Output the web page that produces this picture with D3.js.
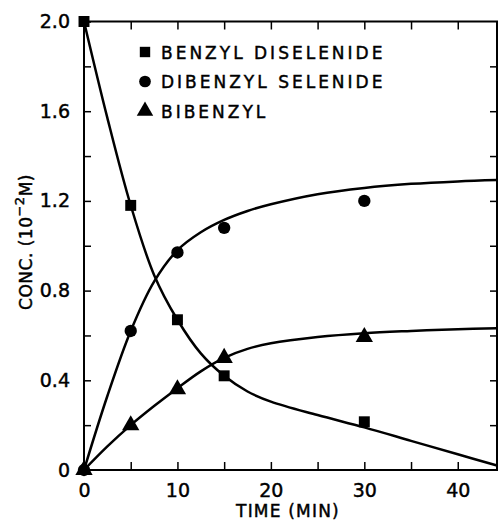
<!DOCTYPE html>
<html><head><meta charset="utf-8">
<script src="https://cdn.jsdelivr.net/npm/d3@7"></script>
<style>body{margin:0;background:#fff}svg text{font-family:"DejaVu Sans",sans-serif;fill:#000;stroke:#000;stroke-width:0.45px}</style>
</head><body>
<svg id="c" width="498" height="521"></svg>
<script>
// measured points
const times = [0, 5, 10, 15, 30];
const diselenide = [2.0, 1.18, 0.67, 0.42, 0.215];
const selenide = [0, 0.62, 0.97, 1.08, 1.20];
const bibenzyl = [0, 0.2, 0.36, 0.5, 0.593];
// fitted curves
const curveT = [0, 2.5, 5, 7.5, 10, 12.5, 15, 17.5, 20, 25, 30, 35, 40, 44.2];
const diselenideCurve = [2.0, 1.57, 1.18, 0.87, 0.67, 0.52, 0.42, 0.35, 0.305, 0.245, 0.19, 0.13, 0.07, 0.02];
const selenideCurve = [0, 0.33, 0.62, 0.84, 0.98, 1.06, 1.115, 1.155, 1.185, 1.23, 1.258, 1.276, 1.287, 1.293];
const bibenzylCurve = [0, 0.105, 0.2, 0.285, 0.365, 0.44, 0.5, 0.54, 0.565, 0.593, 0.61, 0.62, 0.628, 0.632];
const xTickLabels = [0, 10, 20, 30, 40];
const yTickLabels = [0, 0.4, 0.8, 1.2, 1.6, 2.0];
const legendNames = ["BENZYL DISELENIDE", "DIBENZYL SELENIDE", "BIBENZYL"];

const svg = d3.select("#c");
const x = d3.scaleLinear().domain([0, 44.2]).range([84, 497]);
const y = d3.scaleLinear().domain([0, 2]).range([470, 21.5]);

const g = svg.append("g");
// frame
g.append("rect").attr("x", x(0)).attr("y", y(2)).attr("width", x(44.2) - x(0)).attr("height", y(0) - y(2))
  .attr("fill", "none").attr("stroke", "#000").attr("stroke-width", 2);

// bottom
g.append("g").attr("transform", `translate(0,${y(0)})`)
  .call(d3.axisBottom(x).tickValues(d3.range(0, 45, 5)).tickSizeInner(-8).tickSizeOuter(0).tickFormat(d => xTickLabels.includes(d) ? d : "").tickPadding(14));
// top
g.append("g").attr("transform", `translate(0,${y(2)})`)
  .call(d3.axisTop(x).tickValues(d3.range(5, 45, 5)).tickSizeInner(-8).tickSizeOuter(0).tickFormat(""));
// left
g.append("g").attr("transform", `translate(${x(0)},0)`)
  .call(d3.axisLeft(y).tickValues(d3.range(0, 2.01, 0.2)).tickSizeInner(-7).tickSizeOuter(0)
    .tickFormat(d => { const m = yTickLabels.find(v => Math.abs(v - d) < 1e-6); return m === undefined ? "" : (m === 0 ? "0" : d3.format(".1f")(m)); }).tickPadding(14));
// right
g.append("g").attr("transform", `translate(${x(44.2)},0)`)
  .call(d3.axisRight(y).tickValues(d3.range(0.2, 2.0, 0.2)).tickSizeInner(-7).tickSizeOuter(0).tickFormat(""));
g.selectAll(".domain").remove();
g.selectAll(".tick line").attr("stroke", "#000").attr("stroke-width", 1.5);
g.selectAll(".tick text").style("font-size", "19px").style("font-family", "DejaVu Sans").attr("fill", "#000");

// curves
const line = d3.line().x(d => x(d[0])).y(d => y(d[1])).curve(d3.curveCatmullRom.alpha(0.5));
[diselenideCurve, selenideCurve, bibenzylCurve].forEach(c => {
  g.append("path").datum(curveT.map((t, i) => [t, c[i]])).attr("d", line)
    .attr("fill", "none").attr("stroke", "#000").attr("stroke-width", 2.5);
});

const sym = [d3.symbolSquare, d3.symbolCircle, d3.symbolTriangle];
const sizes = [120, 120, 130];
[diselenide, selenide, bibenzyl].forEach((s, k) => {
  g.selectAll(null).data(times.map((t, i) => [t, s[i]])).join("path")
    .attr("transform", d => `translate(${x(d[0])},${y(d[1])})`)
    .attr("d", d3.symbol(sym[k], sizes[k])).attr("fill", "#000");
});

// legend
const lg = svg.append("g");
legendNames.forEach((n, i) => {
  const yy = 52 + i * 29.5;
  lg.append("path").attr("transform", `translate(145,${yy})`).attr("d", d3.symbol(sym[i], sizes[i] * 0.9)).attr("fill", "#000");
  lg.append("text").attr("x", 161).attr("y", yy + 6.5).text(n).style("font-size", "17px").style("letter-spacing", "3px");
});

// axis titles
svg.append("text").attr("x", 288).attr("y", 517).attr("text-anchor", "middle").style("font-size", "17px").style("letter-spacing", "1.2px").text("TIME (MIN)");
const yl = svg.append("text").attr("transform", "translate(32,242) rotate(-90)").attr("text-anchor", "middle").style("font-size", "17px").style("letter-spacing", "0.5px");
yl.append("tspan").text("CONC. (10");
yl.append("tspan").attr("dy", -8).style("font-size", "13px").text("−2");
yl.append("tspan").attr("dy", 8).text("M)");
</script>
</body></html>
